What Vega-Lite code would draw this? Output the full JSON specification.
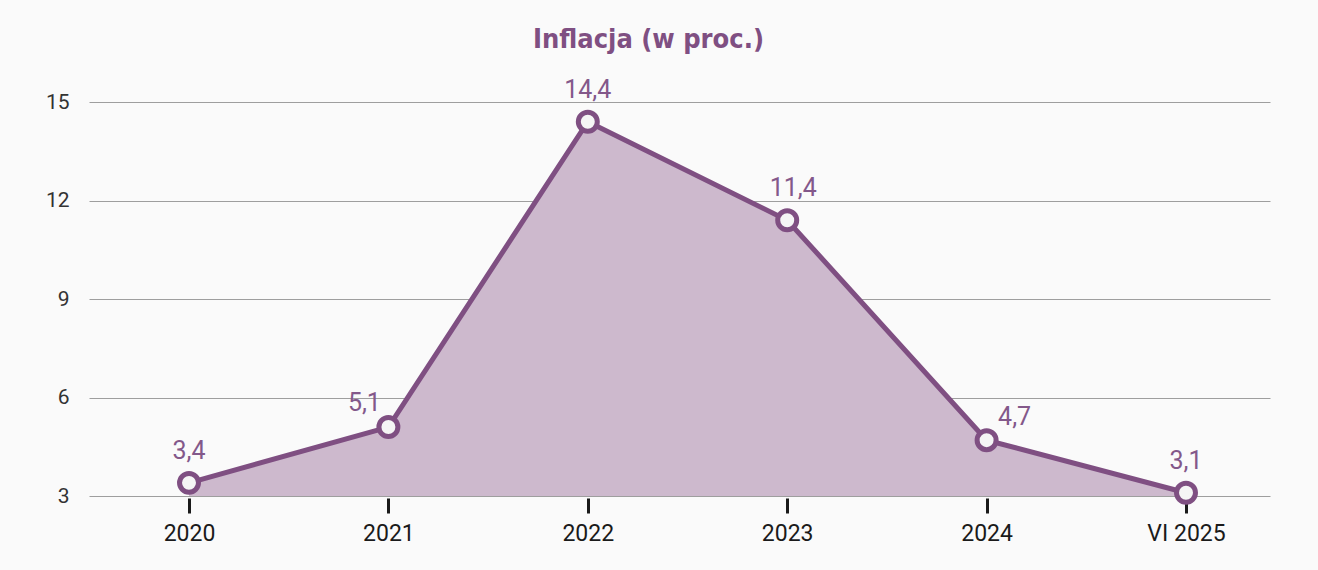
{
  "$schema": "https://vega.github.io/schema/vega-lite/v6.json",
  "width": 1181,
  "height": 394,
  "autosize": {"type": "none"},
  "padding": {"left": 89, "top": 102, "right": 48, "bottom": 74},
  "background": "#fafafa",
  "title": {
    "text": "Inflacja (w proc.)",
    "font": "DejaVu Sans Condensed, Roboto",
    "fontSize": 27,
    "fontWeight": "bold",
    "color": "#7f4f82",
    "anchor": "middle",
    "frame": "group",
    "baseline": "alphabetic",
    "offset": 3,
    "dx": -31
  },
  "config": {
    "view": {"stroke": null},
    "locale": {
      "number": {"decimal": ",", "thousands": " ", "grouping": [3], "currency": ["", " zł"]}
    }
  },
  "data": {
    "values": [
      {"okres": "2020", "inflacja": 3.4},
      {"okres": "2021", "inflacja": 5.1},
      {"okres": "2022", "inflacja": 14.4},
      {"okres": "2023", "inflacja": 11.4},
      {"okres": "2024", "inflacja": 4.7},
      {"okres": "VI 2025", "inflacja": 3.1}
    ]
  },
  "encoding": {
    "x": {
      "field": "okres",
      "type": "ordinal",
      "sort": null,
      "scale": {"type": "point", "padding": 0.4614, "align": 0.5435},
      "axis": {
        "title": null,
        "labelAngle": 0,
        "domain": false,
        "grid": false,
        "ticks": true,
        "tickColor": "#1a1a1a",
        "tickWidth": 3,
        "tickSize": 15,
        "offset": 2,
        "labelFont": "Roboto",
        "labelFontSize": 23,
        "labelColor": "#1a1a1a",
        "labelPadding": 9
      }
    },
    "y": {
      "field": "inflacja",
      "type": "quantitative",
      "scale": {"domain": [3, 15], "nice": false, "zero": false},
      "axis": {
        "title": null,
        "values": [3, 6, 9, 12, 15],
        "domain": false,
        "ticks": false,
        "tickSize": 0,
        "labelPadding": 20,
        "labelFont": "Roboto",
        "labelFontSize": 21,
        "labelColor": "#333333",
        "grid": true,
        "gridColor": "#9e9e9e",
        "gridWidth": 1
      }
    }
  },
  "layer": [
    {"mark": {"type": "area", "color": "#cdb9cd", "opacity": 1}, "encoding": {"y2": {"datum": 3}}},
    {"mark": {"type": "line", "color": "#7f4f82", "strokeWidth": 5}},
    {"mark": {"type": "point", "shape": "circle", "filled": true, "fill": "#f5f5f5", "stroke": "#7f4f82", "strokeWidth": 5, "size": 360, "opacity": 1}},
    {
      "transform": [{"filter": {"field": "okres", "oneOf": ["2020", "2022", "VI 2025"]}}],
      "mark": {"type": "text", "font": "Roboto", "fontSize": 25, "color": "#83588a", "baseline": "alphabetic", "align": "center", "dy": -24},
      "encoding": {"text": {"field": "inflacja", "type": "quantitative", "format": ".1f"}}
    },
    {
      "transform": [{"filter": {"field": "okres", "equal": "2023"}}],
      "mark": {"type": "text", "font": "Roboto", "fontSize": 25, "color": "#83588a", "baseline": "alphabetic", "align": "center", "dy": -24, "dx": 6},
      "encoding": {"text": {"field": "inflacja", "type": "quantitative", "format": ".1f"}}
    },
    {
      "transform": [{"filter": {"field": "okres", "equal": "2021"}}],
      "mark": {"type": "text", "font": "Roboto", "fontSize": 25, "color": "#83588a", "baseline": "alphabetic", "align": "center", "dy": -16, "dx": -24},
      "encoding": {"text": {"field": "inflacja", "type": "quantitative", "format": ".1f"}}
    },
    {
      "transform": [{"filter": {"field": "okres", "equal": "2024"}}],
      "mark": {"type": "text", "font": "Roboto", "fontSize": 25, "color": "#83588a", "baseline": "alphabetic", "align": "center", "dy": -15, "dx": 28},
      "encoding": {"text": {"field": "inflacja", "type": "quantitative", "format": ".1f"}}
    }
  ]
}
